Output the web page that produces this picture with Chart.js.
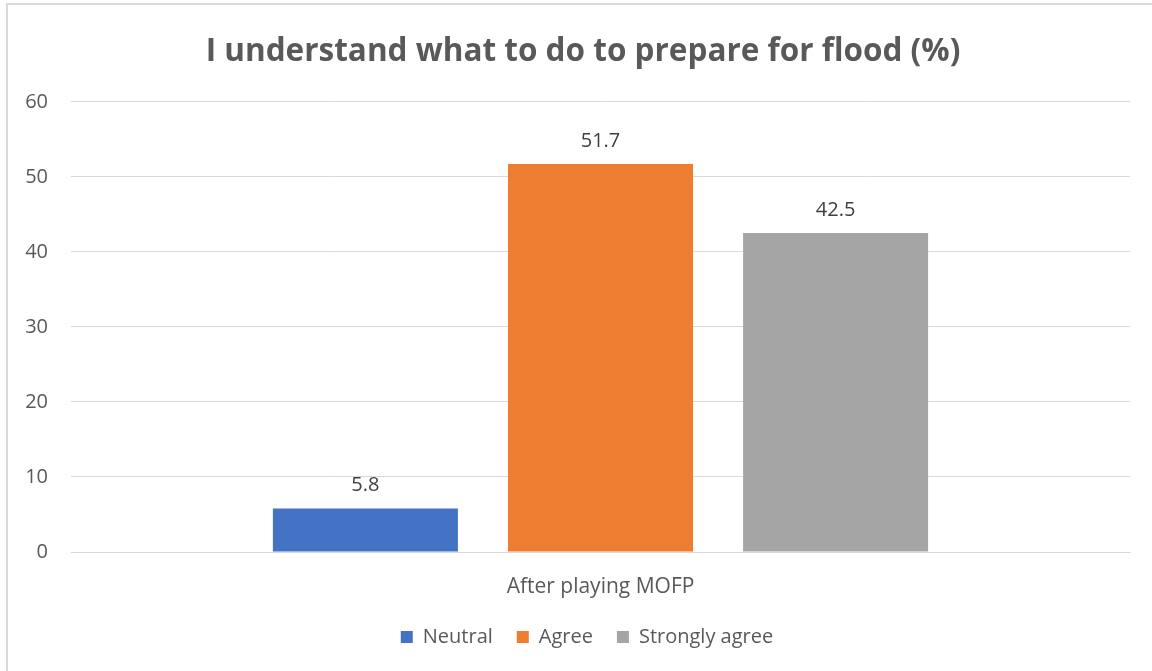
<!DOCTYPE html>
<html>
<head>
<meta charset="utf-8">
<script src="https://cdn.jsdelivr.net/npm/chart.js@4.4.1/dist/chart.umd.min.js"></script>
<style>
  html, body { margin: 0; padding: 0; background: #ffffff; }
  #wrap { position: relative; width: 1152px; height: 671px; }
</style>
</head>
<body>
<div id="wrap"><canvas id="c" width="1152" height="671"></canvas></div>
<script>
const chartTitle = "I understand what to do to prepare for flood (%)";
const categories = ["After playing MOFP"];
const seriesNames = ["Neutral", "Agree", "Strongly agree"];
const neutralValues = [5.8];
const agreeValues = [51.7];
const stronglyAgreeValues = [42.5];
const seriesColors = ["#4472C4", "#ED7D31", "#A5A5A5"];
const yTicks = [0, 10, 20, 30, 40, 50, 60];

const FONT = "'Open Sans', 'Liberation Sans', sans-serif";

const frame = {
  id: 'frame',
  beforeDraw(chart) {
    const ctx = chart.ctx;
    ctx.save();
    ctx.fillStyle = '#ffffff';
    ctx.fillRect(0, 0, chart.width, chart.height);
    ctx.strokeStyle = '#d9d9d9';
    ctx.lineWidth = 2;
    ctx.beginPath();
    ctx.moveTo(7, chart.height);
    ctx.lineTo(7, 4);
    ctx.lineTo(chart.width, 4);
    ctx.stroke();
    ctx.restore();
  },
  afterLayout(chart) {
    if (chart.titleBlock) { chart.titleBlock.left += 14; chart.titleBlock.right += 14; }
    if (chart.legend) { chart.legend.left += 18; chart.legend.right += 18; }
  }
};

const valueLabels = {
  id: 'valueLabels',
  afterDatasetsDraw(chart) {
    const ctx = chart.ctx;
    ctx.save();
    ctx.font = "20px " + FONT;
    ctx.fillStyle = '#404040';
    ctx.textAlign = 'center';
    ctx.textBaseline = 'alphabetic';
    chart.data.datasets.forEach((ds, i) => {
      const meta = chart.getDatasetMeta(i);
      meta.data.forEach((bar, j) => {
        ctx.fillText(String(ds.data[j]), bar.x, bar.y - 17);
      });
    });
    ctx.restore();
  }
};

const dataValues = [neutralValues, agreeValues, stronglyAgreeValues];

new Chart(document.getElementById('c'), {
  type: 'bar',
  data: {
    labels: categories,
    datasets: seriesNames.map((n, i) => ({
      label: n,
      data: dataValues[i],
      backgroundColor: seriesColors[i],
      borderWidth: 0,
      categoryPercentage: 0.666,
      barPercentage: 0.787
    }))
  },
  options: {
    responsive: false,
    animation: false,
    devicePixelRatio: 1,
    layout: { padding: { left: 8, right: 22, top: 0, bottom: 14 } },
    plugins: {
      title: {
        display: true,
        text: chartTitle,
        color: '#595959',
        font: { family: FONT, size: 31.5, weight: 'bold' },
        padding: { top: 33, bottom: 31 }
      },
      legend: {
        display: true,
        position: 'bottom',
        labels: {
          color: '#595959',
          font: { family: FONT, size: 20 },
          boxWidth: 12,
          boxHeight: 12,
          padding: 24
        }
      },
      tooltip: { enabled: false }
    },
    scales: {
      x: {
        afterFit(scale) { scale.height = 51; },
        grid: { display: false, drawTicks: false },
        border: { display: true, color: '#d9d9d9', width: 1 },
        ticks: { color: '#595959', font: { family: FONT, size: 21 }, padding: 22 }
      },
      y: {
        min: 0,
        max: 60,
        afterFit(scale) { scale.width = 63; },
        afterBuildTicks(scale) { scale.ticks = yTicks.map(v => ({ value: v })); },
        grid: { color: '#d9d9d9', drawTicks: false },
        border: { display: false },
        ticks: { color: '#595959', font: { family: FONT, size: 20 }, padding: 23 }
      }
    }
  },
  plugins: [frame, valueLabels]
});
</script>
</body>
</html>
